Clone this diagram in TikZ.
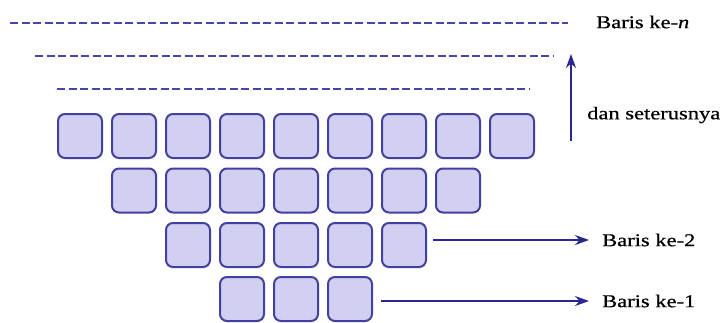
\documentclass[tikz,border=0pt]{standalone}
\usepackage{fontspec}
\setmainfont{Liberation Serif}
\newfontfamily\lblfont[FakeStretch=1.25,FakeBold=0.6]{Liberation Serif}
\usetikzlibrary{arrows.meta}
\definecolor{boxfill}{HTML}{D2D0F0}
\definecolor{boxline}{HTML}{4240A0}
\definecolor{dashcol}{HTML}{4846A8}
\definecolor{arrcol}{HTML}{2A2890}
\begin{document}
\begin{tikzpicture}[x=1pt,y=-1pt,
  cell/.style={draw=boxline,fill=boxfill,line width=2pt,rounded corners=7pt,
    minimum width=44pt,minimum height=44pt,inner sep=0pt},
  dashrow/.style={dashcol,line width=1.5pt,dash pattern=on 8pt off 3.5pt},
  conn/.style={arrcol,line width=1.5pt,-{Stealth[length=14pt,width=10pt]}},
  lbl/.style={font=\lblfont\fontsize{18}{20}\selectfont,text=black,inner sep=0pt}]
\useasboundingbox (0,0) rectangle (726,322);
% rows of cells (row 1 = bottom)
\foreach \k in {0,...,8} \node[cell] (a\k) at (80+54*\k,136) {};
\foreach \k in {0,...,6} \node[cell] (b\k) at (134+54*\k,190.5) {};
\foreach \k in {0,...,4} \node[cell] (c\k) at (188+54*\k,245) {};
\foreach \k in {0,...,2} \node[cell] (d\k) at (242+54*\k,299) {};
% dashed rows
\coordinate (l1a) at (10,23);  \coordinate (l1b) at (568,23);
\coordinate (l2a) at (35,56);  \coordinate (l2b) at (553,56);
\coordinate (l3a) at (57,89);  \coordinate (l3b) at (530,89);
\draw[dashrow] (l1a) -- (l1b);
\draw[dashrow] (l2a) -- (l2b);
\draw[dashrow] (l3a) -- (l3b);
% labels
\node[lbl,anchor=west] (ln) at (596,22) {Baris ke-\textit{n}};
\node[lbl,anchor=west] (ld) at (587,115) {dan seterusnya};
\node[lbl,anchor=west] (l2) at (602,240) {Baris ke-2};
\node[lbl,anchor=west] (l1) at (602,301) {Baris ke-1};
% arrows
\coordinate (vb) at (571,141);
\coordinate (vt) at (571,54);
\draw[conn] (vb) -- (vt);
\draw[conn] ([xshift=6pt]c4.east |- l2.west) -- ([xshift=-13pt]l2.west);
\draw[conn] ([xshift=8pt]d2.east |- l1.west) -- ([xshift=-13pt]l1.west);
\end{tikzpicture}
\end{document}
